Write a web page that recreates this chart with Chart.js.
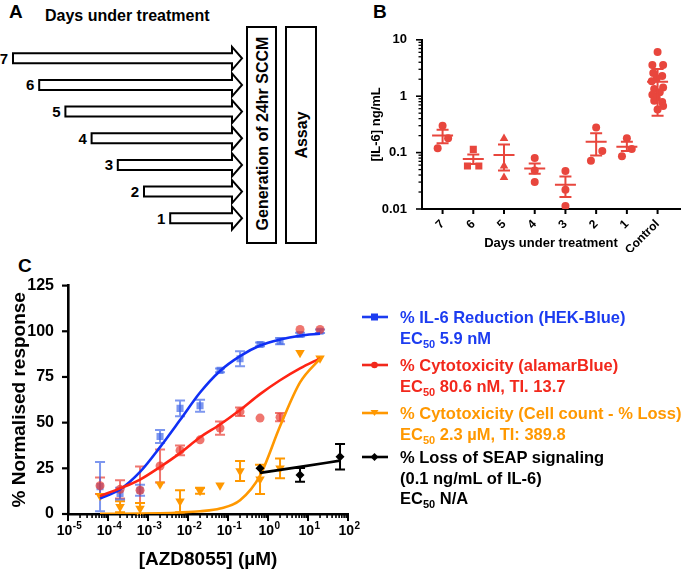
<!DOCTYPE html>
<html>
<head>
<meta charset="utf-8">
<title>AZD8055 IL-6 figure</title>
<script src="https://cdn.jsdelivr.net/npm/chart.js@4.4.1/dist/chart.umd.min.js"></script>
<style>
  html, body { margin: 0; padding: 0; background: #fff; }
  body { font-family: "Liberation Sans", Arial, Helvetica, sans-serif; }
  #figure { position: relative; width: 685px; height: 572px; overflow: hidden; }
  .panel-tag { position: absolute; font-weight: bold; font-size: 19px; line-height: 19px; }
  .legend-line { position: absolute; left: 400px; font-weight: bold; font-size: 16.5px; line-height: 20px; white-space: nowrap; }
  .legend-line sub { font-size: 11px; vertical-align: -4px; line-height: 0; }
  .legend-key { position: absolute; left: 361px; }
</style>
</head>
<body>
<div id="figure">
  <svg id="panelA" width="345" height="250" style="position:absolute;left:0;top:0"></svg>
  <div class="panel-tag" style="left:373px;top:2px">B</div>
  <div style="position:absolute;left:360px;top:25px;width:325px;height:227px">
    <canvas id="chartB" width="325" height="227"></canvas>
  </div>
  <div class="panel-tag" style="left:18px;top:256px">C</div>
  <div style="position:absolute;left:0;top:270px;width:370px;height:302px">
    <canvas id="chartC" width="370" height="302"></canvas>
  </div>
  <div id="legendC"></div>
</div>

<script>
// ---------- Panel A: treatment schedule ----------
const arrowDays = ['7', '6', '5', '4', '3', '2', '1'];
const boxLabels = ['Generation of 24hr SCCM', 'Assay'];

// ---------- Panel B: IL-6 in conditioned medium ----------
const daysB = ['7', '6', '5', '4', '3', '2', '1', 'Control'];
const stylesB = ['circle', 'rect', 'triangle', 'circle', 'circle', 'circle', 'circle', 'circle'];
const valuesB = [
  [0.30, 0.18, 0.12],
  [0.114, 0.058, 0.058],
  [0.177, 0.058, 0.036],
  [0.080, 0.048, 0.030],
  [0.047, 0.022, 0.0113],
  [0.28, 0.107, 0.072],
  [0.18, 0.116, 0.086],
  [6.05, 3.57, 3.57, 2.57, 2.28, 2.05, 1.85, 1.42, 1.34, 1.17, 1.06, 0.95, 0.83, 0.79, 0.67, 0.58]
];
// horizontal scatter of the dots around each category
const jitterB = [
  [0, 0.18, -0.16],
  [0, -0.19, 0.18],
  [0, 0, 0],
  [0, 0, 0],
  [0, 0, 0],
  [0, 0.2, -0.17],
  [0, 0.16, -0.16],
  [0, -0.17, 0.18, -0.14, 0.15, -0.03, -0.19, 0.18, -0.11, 0.07, -0.17, -0.03, -0.11, 0.15, 0.18, 0]
];
const meanB = [0.20, 0.077, 0.091, 0.052, 0.027, 0.155, 0.127, 1.8];
const upperB = [0.255, 0.093, 0.139, 0.064, 0.0376, 0.221, 0.155, 3.05];
const lowerB = [0.147, 0.063, 0.048, 0.042, 0.0163, 0.089, 0.107, 0.45];
const yTicksB = [0.01, 0.1, 1, 10];
const yTickLabelsB = ['0.01', '0.1', '1', '10'];

// ---------- Panel C: dose response ----------
const concC = [6.32e-5, 2e-4, 6.32e-4, 2e-3, 6.32e-3, 0.02, 0.0632, 0.2, 0.632, 2, 6.32, 20];
const ilReduction    = [15, 11.2, 13, 42.4, 57.8, 59.2, 78.6, 85, 92.8, 94.6, 98.2, 100];
const ilReductionErr = [13.5, 3.2, 3, 3.6, 4.3, 3.3, 1, 4.1, 1, 1.7, 1, 1];
const ilReductionFit = [8.5, 13.4, 23, 36.6, 51.4, 66.5, 78.3, 86.4, 92.2, 95.5, 97.6, 98.7];
const alamarBlue     = [15.5, 13.5, 13, 26.3, 34.8, 40.6, 47, 56, 52.5, 53, 101, 101];
const alamarBlueErr  = [4.5, 5, 13, 9, 2.7, 0, 3.6, 2.3, 0, 2.3, 0, 0];
const alamarBlueFit  = [9.8, 14, 18.8, 25.7, 33.3, 42, 49, 56.9, 65.6, 73.2, 79.7, 85.2];
const cellCount      = [10, 4, 3, 16.3, 7, 12.7, 15.8, 23.5, 19, 25, 88.2, 85.2];
const cellCountErr   = [0, 3, 3, 0, 6, 1.6, 0, 5.5, 8, 5.4, 0, 0];
const cellCountFit   = [0.1, 0.1, 0.2, 0.4, 0.8, 1.5, 3, 7.5, 21, 48, 72, 85];
const seapConc       = [0.632, 6.32, 63.2];
const seapLoss       = [25, 21.4, 31.3];
const seapLossErr    = [0, 3.8, 7];
const seapLossFit    = [22.5, 25.8, 29.2];
const xTicksC = [1e-5, 1e-4, 1e-3, 1e-2, 1e-1, 1, 10, 100];
const xTickExpC = ['-5', '-4', '-3', '-2', '-1', '0', '1', '2'];

const legendC = [
  { color: '#1c3cf0', marker: 'rect', lines: ['% IL-6 Reduction (HEK-Blue)', 'EC<sub>50</sub> 5.9 nM'] },
  { color: '#f2281c', marker: 'circle', lines: ['% Cytotoxicity (alamarBlue)', 'EC<sub>50</sub> 80.6 nM, TI. 13.7'] },
  { color: '#ff9800', marker: 'triangle', lines: ['% Cytotoxicity (Cell count - % Loss)', 'EC<sub>50</sub> 2.3 \u00B5M, TI: 389.8'] },
  { color: '#000000', marker: 'diamond', lines: ['% Loss of SEAP signaling', '(0.1 ng/mL of IL-6)', 'EC<sub>50</sub> N/A'] }
];

const RED_B = '#e8463d';
const BLUE = '#1030f5', BLUE_PT = 'rgba(55,95,230,0.65)';
const RED = '#ff2414', RED_PT = 'rgba(232,60,50,0.7)';
const ORANGE = '#ff9800';
const FONT = '"Liberation Sans", Arial, sans-serif';

Chart.defaults.font.family = FONT;
Chart.defaults.color = '#000';

// ---------- helpers ----------
function isPow10(v) {
  const l = Math.log10(v);
  return Math.abs(l - Math.round(l)) < 1e-9;
}

function decadeTicks(minExp, maxExp) {
  const out = [];
  for (let e = minExp; e < maxExp; e++) {
    for (let m = 1; m < 10; m++) out.push({ value: m * Math.pow(10, e) });
  }
  out.push({ value: Math.pow(10, maxExp) });
  return out;
}

function labelFrom(values, labels) {
  return v => {
    const i = values.findIndex(t => Math.abs(v / t - 1) < 1e-6);
    return i < 0 ? '' : labels[i];
  };
}

// draws tick marks (longer for decades on log axes)
const tickMarks = {
  id: 'tickMarks',
  afterDraw(chart, args, opts) {
    const ctx = chart.ctx;
    ctx.save();
    ctx.strokeStyle = '#000';
    ['x', 'y'].forEach(id => {
      const spec = opts[id];
      const scale = chart.scales[id];
      if (!spec || !scale) return;
      scale.ticks.forEach(t => {
        const major = scale.type !== 'logarithmic' || isPow10(t.value);
        const len = major ? spec.major : spec.minor;
        const p = scale.getPixelForValue(t.value);
        ctx.lineWidth = major ? spec.width : spec.minorWidth;
        ctx.beginPath();
        if (id === 'x') {
          ctx.moveTo(p, scale.top);
          ctx.lineTo(p, scale.top + len);
        } else {
          ctx.moveTo(scale.right, p);
          ctx.lineTo(scale.right - len, p);
        }
        ctx.stroke();
      });
    });
    ctx.restore();
  }
};

// "10" with a raised exponent under each decade of panel C
const powerLabels = {
  id: 'powerLabels',
  afterDraw(chart) {
    const { ctx, scales: { x } } = chart;
    ctx.save();
    ctx.fillStyle = '#000';
    ctx.textBaseline = 'alphabetic';
    const baseY = x.top + 21;
    xTicksC.forEach((v, i) => {
      const px = x.getPixelForValue(v);
      ctx.font = `bold 14px ${FONT}`;
      const wb = ctx.measureText('10').width;
      ctx.font = `bold 10px ${FONT}`;
      const we = ctx.measureText(xTickExpC[i]).width;
      const left = px - (wb + we) / 2 + 1;
      ctx.font = `bold 14px ${FONT}`;
      ctx.fillText('10', left, baseY);
      ctx.font = `bold 10px ${FONT}`;
      ctx.fillText(xTickExpC[i], left + wb + 0.5, baseY - 6);
    });
    ctx.restore();
  }
};

// symmetric error bars stored on the dataset as `errors`
const errorBars = {
  id: 'errorBars',
  beforeDatasetsDraw(chart) {
    const ctx = chart.ctx;
    const y = chart.scales.y;
    chart.data.datasets.forEach((ds, i) => {
      if (!ds.errors) return;
      const meta = chart.getDatasetMeta(i);
      ctx.save();
      ctx.strokeStyle = ds.errorColor;
      ctx.lineWidth = 2;
      meta.data.forEach((pt, j) => {
        const e = ds.errors[j];
        if (!e) return;
        const v = ds.data[j].y;
        const top = y.getPixelForValue(v + e);
        const bot = y.getPixelForValue(Math.max(v - e, 0));
        ctx.beginPath();
        ctx.moveTo(pt.x, top); ctx.lineTo(pt.x, bot);
        ctx.moveTo(pt.x - 5, top); ctx.lineTo(pt.x + 5, top);
        ctx.moveTo(pt.x - 5, bot); ctx.lineTo(pt.x + 5, bot);
        ctx.stroke();
      });
      ctx.restore();
    });
  }
};

// mean +/- error for panel B
const meanBars = {
  id: 'meanBars',
  afterDatasetsDraw(chart) {
    const { ctx, scales: { x, y } } = chart;
    ctx.save();
    ctx.strokeStyle = RED_B;
    ctx.lineWidth = 2;
    meanB.forEach((m, i) => {
      const px = x.getPixelForValue(i);
      const pm = y.getPixelForValue(m);
      const pu = y.getPixelForValue(upperB[i]);
      const pl = y.getPixelForValue(lowerB[i]);
      ctx.beginPath();
      ctx.moveTo(px - 10.5, pm); ctx.lineTo(px + 10.5, pm);
      ctx.moveTo(px, pu); ctx.lineTo(px, pl);
      ctx.moveTo(px - 6, pu); ctx.lineTo(px + 6, pu);
      ctx.moveTo(px - 6, pl); ctx.lineTo(px + 6, pl);
      ctx.stroke();
    });
    ctx.restore();
  }
};

// ---------- Panel A (schematic) ----------
function drawPanelA() {
  const svg = document.getElementById('panelA');
  let s = '';
  s += '<text x="9" y="18" font-size="19" font-weight="bold">A</text>';
  s += '<text x="45" y="21" font-size="16" font-weight="bold">Days under treatment</text>';
  arrowDays.forEach((d, k) => {
    const cy = 58.3 + 26.65 * k;
    const x0 = 13 + 26.2 * k;
    const pts = [
      [x0, cy - 5], [232, cy - 5], [232, cy - 11.5], [242, cy],
      [232, cy + 11.5], [232, cy + 5], [x0, cy + 5]
    ].map(p => p.join(',')).join(' ');
    s += `<polygon points="${pts}" fill="#fff" stroke="#000" stroke-width="2" stroke-linejoin="miter"/>`;
    s += `<text x="${x0 - 9}" y="${cy + 5.5}" font-size="15" font-weight="bold" text-anchor="middle">${d}</text>`;
  });
  const boxes = [[247, 29], [286, 30]];
  boxes.forEach(([bx, bw], i) => {
    s += `<rect x="${bx}" y="27" width="${bw}" height="216" fill="#fff" stroke="#000" stroke-width="2"/>`;
    const cx = bx + bw / 2;
    const cy = i === 0 ? 133.5 : 135;
    s += `<text transform="translate(${cx + 0.5},${cy}) rotate(-90)" font-size="16" font-weight="bold" text-anchor="middle" dominant-baseline="central">${boxLabels[i]}</text>`;
  });
  svg.innerHTML = s;
}

// ---------- Panel B ----------
function createPanelB() {
  const datasets = valuesB.map((vals, i) => ({
    data: vals.map((v, j) => ({ x: i + jitterB[i][j], y: v })),
    pointStyle: stylesB[i],
    pointRadius: stylesB[i] === 'circle' ? 4 : 5,
    backgroundColor: RED_B,
    borderColor: RED_B,
    borderWidth: 0
  }));

  new Chart(document.getElementById('chartB'), {
    type: 'scatter',
    data: { datasets },
    options: {
      responsive: false,
      animation: false,
      devicePixelRatio: 1,
      layout: { padding: { top: 10, right: 0, left: 0, bottom: 0 } },
      plugins: { legend: { display: false }, tooltip: { enabled: false }, tickMarks: {
        x: { major: 5, minor: 5, width: 2, minorWidth: 2 },
        y: { major: 6, minor: 3.5, width: 1.6, minorWidth: 1.3 }
      } },
      scales: {
        x: {
          type: 'linear', min: -0.67, max: 7.73,
          afterBuildTicks: s => { s.ticks = daysB.map((_, i) => ({ value: i })); },
          afterFit: s => { s.height = 43; },
          grid: { display: false },
          border: { display: true, color: '#000', width: 2 },
          ticks: {
            autoSkip: false, minRotation: 45, maxRotation: 45, padding: 0,
            font: { size: 12, weight: 'bold' },
            callback: v => daysB[v] ?? ''
          },
          title: { display: true, text: 'Days under treatment', font: { size: 13, weight: 'bold' }, padding: { top: 0, bottom: 1 } }
        },
        y: {
          type: 'logarithmic', min: 0.01, max: 10,
          afterBuildTicks: s => { s.ticks = decadeTicks(-2, 1); },
          afterFit: s => { s.width = 62; },
          grid: { display: false },
          border: { display: true, color: '#000', width: 2 },
          ticks: {
            autoSkip: false, padding: 7,
            font: { size: 13, weight: 'bold' },
            callback: labelFrom(yTicksB, yTickLabelsB)
          },
          title: { display: true, text: '[IL-6] ng/mL', font: { size: 13, weight: 'bold' }, padding: { top: 9, bottom: 0 } }
        }
      }
    },
    plugins: [meanBars, tickMarks]
  });
}

// ---------- Panel C ----------
function points(xs, ys) {
  return xs.map((x, i) => ({ x, y: ys[i] }));
}

function fitLine(xs, ys, color) {
  return {
    data: points(xs, ys), showLine: true, borderColor: color, borderWidth: 2.6,
    pointRadius: 0, cubicInterpolationMode: 'monotone', fill: false
  };
}

function markers(xs, ys, errs, style, fill, errColor, radius, rotation) {
  return {
    data: points(xs, ys), errors: errs, errorColor: errColor,
    pointStyle: style, pointRadius: radius, pointRotation: rotation || 0,
    backgroundColor: fill, borderColor: fill, borderWidth: 0
  };
}

function createPanelC() {
  const datasets = [
    markers(seapConc, seapLoss, seapLossErr, 'rectRot', '#000', '#000', 4.5),
    fitLine(seapConc, seapLossFit, '#000'),
    fitLine(concC, cellCountFit, ORANGE),
    fitLine(concC, alamarBlueFit, RED),
    fitLine(concC, ilReductionFit, BLUE),
    markers(concC, alamarBlue, alamarBlueErr, 'circle', RED_PT, RED_PT, 4.5),
    markers(concC, cellCount, cellCountErr, 'triangle', ORANGE, ORANGE, 5.5, 180),
    markers(concC, ilReduction, ilReductionErr, 'rect', BLUE_PT, BLUE_PT, 5)
  ];

  new Chart(document.getElementById('chartC'), {
    type: 'scatter',
    data: { datasets },
    options: {
      responsive: false,
      animation: false,
      devicePixelRatio: 1,
      layout: { padding: { top: 14, right: 22, left: 0, bottom: 0 } },
      plugins: { legend: { display: false }, tooltip: { enabled: false }, tickMarks: {
        x: { major: 7, minor: 4, width: 2, minorWidth: 1.6 },
        y: { major: 6, minor: 6, width: 2.2, minorWidth: 2.2 }
      } },
      scales: {
        x: {
          type: 'logarithmic', min: 1e-5, max: 100,
          afterBuildTicks: s => { s.ticks = decadeTicks(-5, 2); },
          afterFit: s => { s.height = 58; },
          grid: { display: false },
          border: { display: true, color: '#000', width: 2.6 },
          ticks: {
            autoSkip: false, maxRotation: 0, padding: 8,
            font: { size: 14, weight: 'bold' },
            callback: () => ''
          },
          title: { display: true, text: '[AZD8055] (\u00B5M)', font: { size: 19, weight: 'bold' }, padding: { top: 0, bottom: 1 } }
        },
        y: {
          min: 0, max: 125,
          afterFit: s => { s.width = 68; },
          grid: { display: false },
          border: { display: true, color: '#000', width: 2.6 },
          ticks: { stepSize: 25, padding: 6, font: { size: 16, weight: 'bold' } },
          title: { display: true, text: '% Normalised response', font: { size: 19, weight: 'bold' }, padding: { top: 8, bottom: 0 } }
        }
      }
    },
    plugins: [errorBars, tickMarks, powerLabels]
  });
}

// legend for panel C (needs subscripts, so it is html)
function buildLegendC() {
  const host = document.getElementById('legendC');
  const tops = [317, 365, 413, 457];
  let html = '';
  legendC.forEach((item, i) => {
    const cy = tops[i];
    let mk = '';
    if (item.marker === 'rect') mk = `<rect x="10" y="2.5" width="7" height="7" fill="${item.color}"/>`;
    if (item.marker === 'circle') mk = `<circle cx="13.5" cy="6" r="3.3" fill="${item.color}"/>`;
    if (item.marker === 'triangle') mk = `<polygon points="9.5,3 17.5,3 13.5,9" fill="${item.color}"/>`;
    if (item.marker === 'diamond') mk = `<polygon points="13.5,2 17.5,6 13.5,10 9.5,6" fill="${item.color}"/>`;
    html += `<svg class="legend-key" style="top:${cy - 6}px" width="28" height="12">` +
      `<line x1="1" y1="6" x2="27" y2="6" stroke="${item.color}" stroke-width="2.6"/>${mk}</svg>`;
    item.lines.forEach((ln, k) => {
      html += `<div class="legend-line" style="top:${cy - 10 + k * 20.5}px;color:${item.color}">${ln}</div>`;
    });
  });
  host.innerHTML = html;
}

drawPanelA();
createPanelB();
createPanelC();
buildLegendC();
</script>
</body>
</html>
